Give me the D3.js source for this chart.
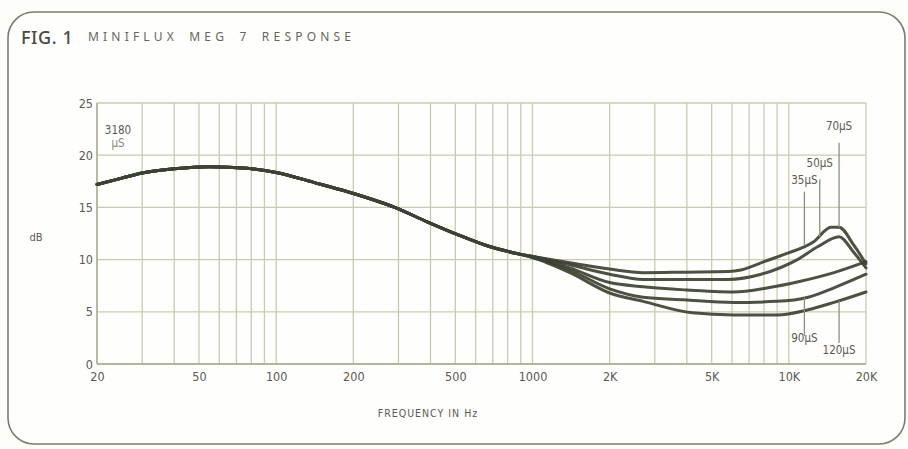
<!DOCTYPE html>
<html>
<head>
<meta charset="utf-8">
<script src="https://cdn.jsdelivr.net/npm/d3@7"></script>
<style>
  html, body { margin: 0; padding: 0; background: #fdfdfa; }
  svg { display: block; }
</style>
</head>
<body>
<svg id="chart" width="908" height="449"></svg>
<script>
// ---------- data ----------
const yTicks = [0, 5, 10, 15, 20, 25];
const gridFreqs = [20, 30, 40, 50, 60, 70, 80, 90, 100, 200, 300, 400, 500, 600, 700, 800, 900,
                   1000, 2000, 3000, 4000, 5000, 6000, 7000, 8000, 9000, 10000, 20000];
const xTickValues = [20, 50, 100, 200, 500, 1000, 2000, 5000, 10000, 20000];
const xTickLabels = ["20", "50", "100", "200", "500", "1000", "2K", "5K", "10K", "20K"];

// common low-frequency section (identical for all time constants)
const bassFreq = [20, 25, 30, 40, 55, 77, 100, 140, 190, 290, 390, 510, 670, 900];
const bassDb   = [17.2, 17.8, 18.3, 18.7, 18.9, 18.75, 18.35, 17.4, 16.5, 15.0, 13.6, 12.4, 11.3, 10.5];

// treble sections for each equalisation time constant
const freq70  = [1000, 1400, 2000, 2700, 4000, 5800, 6500, 7100, 8000, 9600, 12500, 14600, 15700, 17900, 20000];
const db70    = [10.3, 9.7, 9.1, 8.75, 8.8, 8.85, 9.0, 9.3, 9.8, 10.5, 11.7, 13.1, 13.1, 11.4, 9.6];
const freq50  = [1000, 1400, 2000, 2700, 5800, 7800, 10800, 13000, 15700, 17900, 20000];
const db50    = [10.3, 9.5, 8.6, 8.1, 8.1, 8.6, 10.0, 11.25, 12.2, 10.7, 9.2];
const freq35  = [1000, 1400, 2000, 2700, 3900, 6100, 8300, 11000, 15000, 20000];
const db35    = [10.3, 9.2, 7.8, 7.4, 7.1, 6.9, 7.3, 7.9, 8.75, 9.8];
const freq90  = [1000, 1400, 2000, 2700, 3900, 6100, 9000, 11900, 15000, 20000];
const db90    = [10.2, 9.0, 7.2, 6.4, 6.15, 5.9, 6.0, 6.4, 7.3, 8.6];
const freq120 = [1000, 1400, 2000, 2700, 4200, 6100, 9000, 11900, 15000, 20000];
const db120   = [10.2, 8.75, 6.8, 6.0, 4.9, 4.7, 4.7, 5.2, 5.9, 6.9];

const seriesNames = ["70µS", "50µS", "35µS", "90µS", "120µS"];
const seriesFreqs = [freq70, freq50, freq35, freq90, freq120];
const seriesDbs   = [db70, db50, db35, db90, db120];

// annotation labels: [text, label freq, label dB, pointer freq, pointer-from dB, target series index]
const annotations = [
  ["70µS", 15700, 22.4, 15700, 21.2, 0],
  ["50µS", 13200, 18.9, 13200, 17.7, 0],
  ["35µS", 11500, 17.2, 11500, 16.5, 0],
  ["90µS", 11500, 2.1, 11500, 2.7, 3],
  ["120µS", 15700, 1.0, 15700, 2.0, 4]
];

// ---------- drawing ----------
const svg = d3.select("#chart");

const x = d3.scaleLog().domain([20, 20000]).range([97, 866]);
const y = d3.scaleLinear().domain([0, 25]).range([364, 103]);

const gridColor = "#c9cab3";
const curveColor = "#3c4233";
const textColor = "#5a5a52";
const condensed = "'DejaVu Sans Condensed', 'Liberation Sans Narrow', sans-serif";

// frame
svg.append("rect")
  .attr("x", 8).attr("y", 12).attr("width", 897).attr("height", 432)
  .attr("rx", 26).attr("ry", 26)
  .attr("fill", "#fefefc").attr("stroke", "#7b7b72").attr("stroke-width", 1.6);

// title
svg.append("text").attr("x", 21).attr("y", 44)
  .attr("font-family", "'Noto Sans', 'DejaVu Sans', sans-serif").attr("font-size", 18)
  .attr("font-weight", 500)
  .attr("fill", "#4a4a44").attr("letter-spacing", 0.6).text("FIG. 1");
svg.append("text").attr("x", 88).attr("y", 41)
  .attr("font-family", "'Noto Sans', 'DejaVu Sans', sans-serif").attr("font-size", 12)
  .attr("fill", "#66665e").attr("letter-spacing", 4.2).attr("word-spacing", 4)
  .text("MINIFLUX MEG 7 RESPONSE");

// grid
const g = svg.append("g");
g.selectAll("line.v").data(gridFreqs).enter().append("line")
  .attr("class", "v")
  .attr("x1", d => x(d)).attr("x2", d => x(d))
  .attr("y1", y(25)).attr("y2", y(0))
  .attr("stroke", gridColor).attr("stroke-width", 1.3);
g.selectAll("line.h").data(yTicks).enter().append("line")
  .attr("class", "h")
  .attr("x1", x(20)).attr("x2", x(20000))
  .attr("y1", d => y(d)).attr("y2", d => y(d))
  .attr("stroke", gridColor).attr("stroke-width", 1.3);
g.append("line").attr("x1", x(20)).attr("x2", x(20)).attr("y1", y(25)).attr("y2", y(0))
  .attr("stroke", "#a9aa95").attr("stroke-width", 1.4);
g.append("line").attr("x1", x(20)).attr("x2", x(20000)).attr("y1", y(0)).attr("y2", y(0))
  .attr("stroke", "#a9aa95").attr("stroke-width", 1.4);

// axes (labels via d3 axes, domain/ticks hidden)
const yAxis = d3.axisLeft(y).tickValues(yTicks).tickSize(0).tickPadding(4).tickFormat(d3.format("d"));
const yG = svg.append("g").attr("transform", `translate(${x(20)},0)`).call(yAxis);
yG.select(".domain").remove();
yG.selectAll("text").attr("font-family", condensed).attr("font-size", 12.5).attr("fill", textColor);

const xAxis = d3.axisBottom(x).tickValues(xTickValues).tickSize(0).tickPadding(8)
  .tickFormat((d, i) => xTickLabels[i]);
const xG = svg.append("g").attr("transform", `translate(0,${y(0)})`).call(xAxis);
xG.select(".domain").remove();
xG.selectAll("text").attr("font-family", condensed).attr("font-size", 12.5).attr("fill", textColor);

// axis titles
svg.append("text").attr("x", 36).attr("y", 241).attr("text-anchor", "middle")
  .attr("font-family", condensed).attr("font-size", 11).attr("fill", textColor).text("dB");
svg.append("text").attr("x", 428).attr("y", 417).attr("text-anchor", "middle")
  .attr("font-family", condensed).attr("font-size", 10.5).attr("letter-spacing", 1)
  .attr("fill", textColor).text("FREQUENCY IN Hz");

// 3180 µS label
svg.append("text").attr("x", 118).attr("y", 134).attr("text-anchor", "middle")
  .attr("font-family", condensed).attr("font-size", 11.5).attr("fill", textColor).text("3180");
svg.append("text").attr("x", 118).attr("y", 147).attr("text-anchor", "middle")
  .attr("font-family", condensed).attr("font-size", 11.5).attr("fill", "#8a8a7c").text("µS");

// curves
const line = d3.line().x(d => x(d[0])).y(d => y(d[1])).curve(d3.curveMonotoneX);
const bassPts = bassFreq.map((f, i) => [f, bassDb[i]]);
const seriesPts = seriesFreqs.map((fs, k) => bassPts.concat(fs.map((f, i) => [f, seriesDbs[k][i]])));

svg.append("g").selectAll("path").data(seriesPts).enter().append("path")
  .attr("d", line)
  .attr("fill", "none").attr("stroke", curveColor).attr("stroke-width", 3)
  .attr("stroke-linejoin", "round").attr("stroke-linecap", "round").attr("opacity", 0.92);

// interpolate a series in log-frequency
function valueAt(k, f) {
  const pts = seriesPts[k];
  for (let i = 0; i < pts.length - 1; i++) {
    if (f >= pts[i][0] && f <= pts[i + 1][0]) {
      const t = (Math.log(f) - Math.log(pts[i][0])) / (Math.log(pts[i + 1][0]) - Math.log(pts[i][0]));
      return pts[i][1] + t * (pts[i + 1][1] - pts[i][1]);
    }
  }
  return pts[pts.length - 1][1];
}

// annotations
const ann = svg.append("g");
annotations.forEach(a => {
  const [txt, lf, ld, pf, pd, k] = a;
  const target = valueAt(k, pf);
  ann.append("line")
    .attr("x1", x(pf)).attr("x2", x(pf))
    .attr("y1", y(pd)).attr("y2", y(target))
    .attr("stroke", "#8d8e7c").attr("stroke-width", 1.3);
  ann.append("text").attr("x", x(lf)).attr("y", y(ld)).attr("text-anchor", "middle")
    .attr("font-family", condensed).attr("font-size", 11.5).attr("fill", textColor).text(txt);
});
</script>
</body>
</html>
